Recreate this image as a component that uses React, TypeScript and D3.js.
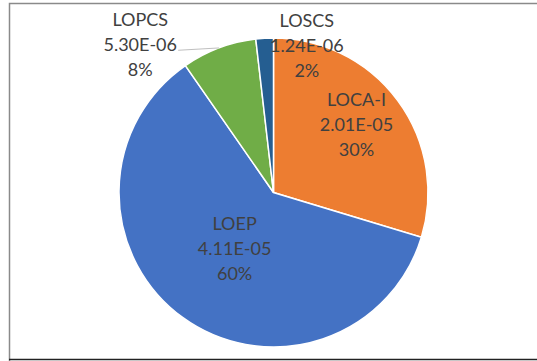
import React, { useEffect, useRef } from "react";
import * as d3 from "d3";

const categories = ["LOCA-I", "LOEP", "LOPCS", "LOSCS"];
const values = [2.01e-5, 4.11e-5, 5.3e-6, 1.24e-6];
const valueLabels = ["2.01E-05", "4.11E-05", "5.30E-06", "1.24E-06"];
const percentLabels = ["30%", "60%", "8%", "2%"];
const colors = ["#ED7D31", "#4472C4", "#70AD47", "#255E91"];

const App: React.FC = () => {
  const svgRef = useRef<SVGSVGElement | null>(null);

  useEffect(() => {
    const width = 537;
    const height = 361;
    const cx = 273.5;
    const cy = 192.5;
    const radius = 154.5;

    const svg = d3.select(svgRef.current).attr("width", width).attr("height", height);
    svg.selectAll("*").remove();

    // chart frame (partially cropped in the reference)
    svg
      .append("rect")
      .attr("x", 0)
      .attr("y", 0)
      .attr("width", width)
      .attr("height", height)
      .attr("fill", "#fff");
    svg
      .append("path")
      .attr("d", `M9.5,${height}V3.5H${width}`)
      .attr("fill", "none")
      .attr("stroke", "#8a8a8a")
      .attr("stroke-width", 1.5);
    svg
      .append("line")
      .attr("x1", 9)
      .attr("x2", width)
      .attr("y1", 359.5)
      .attr("y2", 359.5)
      .attr("stroke", "#222")
      .attr("stroke-width", 1.5);

    const pie = d3
      .pie<number>()
      .sort(null)
      .value((d) => d);
    const arcs = pie(values);

    const arc = d3.arc<d3.PieArcDatum<number>>().innerRadius(0).outerRadius(radius);

    const g = svg.append("g").attr("transform", `translate(${cx},${cy})`);

    g.selectAll("path.slice")
      .data(arcs)
      .enter()
      .append("path")
      .attr("class", "slice")
      .attr("d", arc)
      .attr("fill", (_, i) => colors[i])
      .attr("stroke", "#fff")
      .attr("stroke-width", 1.5);

    // label placement relative to each slice's mid angle
    const labelPos = (i: number): [number, number] => {
      const a = arcs[i];
      const mid = (a.startAngle + a.endAngle) / 2;
      if (i === 0) {
        const r = 107;
        const ang = mid - 0.045;
        return [r * Math.sin(ang), -r * Math.cos(ang)];
      }
      if (i === 1) {
        const r = 69;
        const ang = mid - 0.03;
        return [r * Math.sin(ang), -r * Math.cos(ang)];
      }
      const r = radius + 5;
      if (i === 2) {
        return [r * Math.sin(mid) - 77, -r * Math.cos(mid) + 2];
      }
      return [r * Math.sin(mid) + 42.5, -r * Math.cos(mid) + 13];
    };

    // leader line for LOPCS
    const lp = arcs[2];
    const lmid = (lp.startAngle + lp.endAngle) / 2;
    const edge: [number, number] = [radius * Math.sin(lmid), -radius * Math.cos(lmid)];
    const [lx, ly] = labelPos(2);
    g.append("path")
      .attr("d", `M${lx + 38},${ly + 5}L${edge[0]},${edge[1]}`)
      .attr("stroke", "#bfbfbf")
      .attr("stroke-width", 1)
      .attr("fill", "none");

    const lineGap = 25;
    categories.forEach((c, i) => {
      const [x, y] = labelPos(i);
      const t = g
        .append("text")
        .attr("x", x)
        .attr("y", y)
        .attr("text-anchor", "middle")
        .style("font-family", "Lato, 'Open Sans', sans-serif")
        .style("font-size", "18px")
        .style("fill", "#404040");
      [c, valueLabels[i], percentLabels[i]].forEach((s, k) => {
        t.append("tspan")
          .attr("x", x)
          .attr("y", y + (k - 1) * lineGap + 6)
          .text(s);
      });
    });
  }, []);

  return (
    <svg
      ref={svgRef}
      style={{ position: "absolute", left: 0, top: 0, display: "block" }}
    ></svg>
  );
};

export default App;
